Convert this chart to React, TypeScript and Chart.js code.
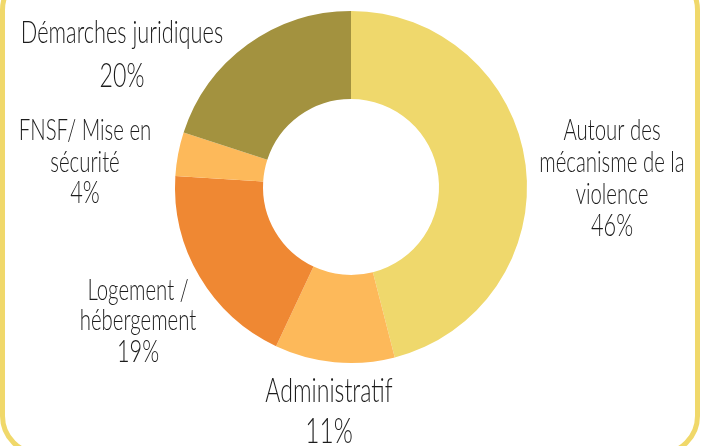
import React, { useEffect, useRef } from "react";
import { Chart, registerables } from "chart.js";

Chart.register(...registerables);

const categories: string[][] = [
  ["Autour des", "mécanisme de la", "violence"],
  ["Administratif"],
  ["Logement /", "hébergement"],
  ["FNSF/ Mise en", "sécurité"],
  ["Démarches juridiques"],
];
const values: number[] = [46, 11, 19, 4, 20];
const colors: string[] = ["#EFD86C", "#FDB95A", "#EF8833", "#FDB95A", "#A3923F"];

// label layout relative to doughnut centre: dx, first baseline dy, line height, gap to % line, font size
const labelLayout = [
  { dx: 261, dy: -47, lh: 32, pg: 32, fs: 30 },
  { dx: -22, dy: 215, lh: 32, pg: 41, fs: 34 },
  { dx: -213, dy: 113, lh: 30, pg: 32, fs: 30 },
  { dx: -266, dy: -47, lh: 32, pg: 31, fs: 30 },
  { dx: -229, dy: -144, lh: 32, pg: 44, fs: 32 },
];

const labelPlugin = {
  id: "outerLabels",
  afterDraw(chart: any) {
    const ctx = chart.ctx;
    const meta = chart.getDatasetMeta(0);
    const arc = meta.data[0];
    if (!arc) return;
    const cx = arc.x;
    const cy = arc.y;
    const total = values.reduce((a, b) => a + b, 0);
    ctx.save();
    ctx.fillStyle = "#1c1c1c";
    ctx.textAlign = "center";
    ctx.textBaseline = "alphabetic";
    categories.forEach((lines, i) => {
      const L = labelLayout[i];
      const x = cx + L.dx;
      const drawLine = (t: string, y: number, fs: number) => {
        ctx.save();
        ctx.font = `300 ${fs}px Lato, "Liberation Sans", sans-serif`;
        ctx.translate(x, y);
        ctx.scale(0.68, 1);
        ctx.fillText(t, 0, 0);
        ctx.restore();
      };
      let y = cy + L.dy;
      lines.forEach((t, k) => {
        if (k > 0) y += L.lh;
        drawLine(t, y, L.fs);
      });
      const pct = Math.round((values[i] / total) * 100) + "%";
      drawLine(pct, y + L.pg, L.fs + 2);
    });
    ctx.restore();
  },
};

export default function App() {
  const ref = useRef<HTMLCanvasElement | null>(null);
  useEffect(() => {
    if (!ref.current) return;
    const chart = new Chart(ref.current, {
      type: "doughnut",
      data: {
        labels: categories.map((c) => c.join(" ")),
        datasets: [
          {
            data: values,
            backgroundColor: colors,
            borderWidth: 0,
          },
        ],
      },
      options: {
        animation: false,
        responsive: false,
        cutout: "50%",
        layout: { padding: { top: 11, bottom: 83, left: 0, right: 3 } },
        plugins: {
          legend: { display: false },
          tooltip: { enabled: false },
        },
      },
      plugins: [labelPlugin],
    });
    return () => chart.destroy();
  }, []);

  return (
    <div
      style={{
        position: "fixed",
        left: 0,
        top: 0,
        width: 705,
        height: 446,
        overflow: "hidden",
        background: "#ffffff",
      }}
    >
      <div
        style={{
          position: "absolute",
          left: 0,
          top: -30,
          width: 700,
          height: 486,
          boxSizing: "border-box",
          border: "5px solid #F0D86A",
          borderRadius: 40,
        }}
      />
      <canvas
        ref={ref}
        width={705}
        height={446}
        style={{ position: "absolute", left: 0, top: 0, display: "block" }}
      />
    </div>
  );
}
